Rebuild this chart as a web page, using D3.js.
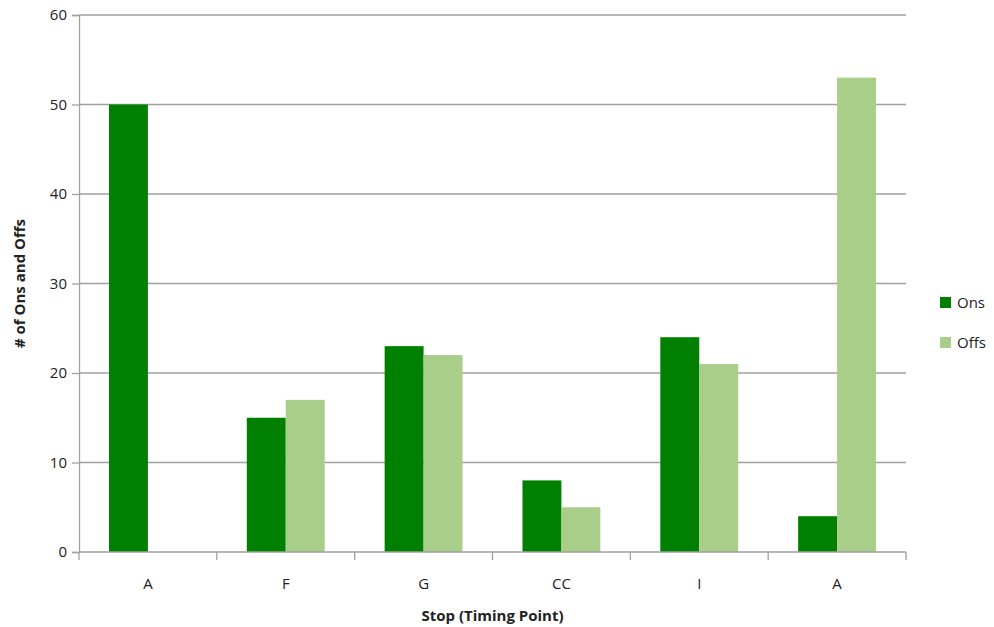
<!DOCTYPE html>
<html>
<head>
<meta charset="utf-8">
<script src="https://cdn.jsdelivr.net/npm/d3@7"></script>
<style>
  html, body { margin: 0; padding: 0; background: #fff; }
  text { font-family: "Open Sans", "DejaVu Sans", sans-serif; }
</style>
</head>
<body>
<svg id="chart" width="994" height="627"></svg>
<script>
// Stops along the route (A appears at both ends)
const stops = ["A", "F", "G", "CC", "I", "A"];
const ons = [50, 15, 23, 8, 24, 4];
const offs = [0, 17, 22, 5, 21, 53];
const yTicks = [0, 10, 20, 30, 40, 50, 60];
const seriesNames = ["Ons", "Offs"];
const seriesColors = ["#008000", "#a9ce8a"];

const svg = d3.select("#chart");
const margin = { left: 79, right: 88, top: 15, bottom: 75 };
const W = 994, H = 627;
const plotW = W - margin.left - margin.right;
const plotH = H - margin.top - margin.bottom;

const g = svg.append("g").attr("transform", `translate(${margin.left},${margin.top})`);

const x0 = d3.scaleBand().domain(d3.range(stops.length)).range([0, plotW]).padding(0);
const x1 = d3.scaleBand().domain(seriesNames).range([0, x0.bandwidth()]).paddingInner(0).paddingOuter(0.77);
const y = d3.scaleLinear().domain([0, 60]).range([plotH, 0]);

// horizontal gridlines
g.append("g").selectAll("line").data(yTicks.filter(d => d > 0)).join("line")
  .attr("x1", 0).attr("x2", plotW)
  .attr("y1", d => y(d)).attr("y2", d => y(d))
  .attr("stroke", "#a0a0a0").attr("stroke-width", 1.3);

// bars
const rows = stops.map((s, i) => ({ i, vals: [ons[i], offs[i]] }));
g.append("g").selectAll("g").data(rows).join("g")
  .attr("transform", d => `translate(${x0(d.i)},0)`)
  .selectAll("rect").data(d => d.vals.map((v, k) => ({ k, v }))).join("rect")
  .attr("x", d => x1(seriesNames[d.k]))
  .attr("width", x1.bandwidth())
  .attr("y", d => y(d.v))
  .attr("height", d => plotH - y(d.v))
  .attr("fill", d => seriesColors[d.k]);

// y axis
const yAxis = g.append("g").call(d3.axisLeft(y).tickValues(yTicks).tickSize(7).tickPadding(5));
yAxis.select(".domain").attr("stroke", "#a0a0a0").attr("stroke-width", 1.3);
yAxis.selectAll(".tick line").attr("stroke", "#a0a0a0").attr("stroke-width", 1.3);
yAxis.selectAll(".tick text").attr("font-size", 15).attr("fill", "#222")
  .style("font-family", "'Open Sans', sans-serif");

// x axis: boundaries between stops get ticks, labels centred in each band
const xAxisG = g.append("g").attr("transform", `translate(0,${plotH})`);
xAxisG.append("line").attr("x1", 0).attr("x2", plotW).attr("y1", 0).attr("y2", 0)
  .attr("stroke", "#a0a0a0").attr("stroke-width", 1.3);
xAxisG.selectAll("line.tk").data(d3.range(stops.length + 1)).join("line")
  .attr("class", "tk")
  .attr("x1", i => i * x0.bandwidth()).attr("x2", i => i * x0.bandwidth())
  .attr("y1", 0).attr("y2", 8)
  .attr("stroke", "#a0a0a0").attr("stroke-width", 1.3);
xAxisG.selectAll("text").data(rows).join("text")
  .attr("x", d => x0(d.i) + x0.bandwidth() / 2)
  .attr("y", 37)
  .attr("text-anchor", "middle")
  .attr("font-size", 15).attr("fill", "#222")
  .text(d => stops[d.i]);

// axis titles
svg.append("text")
  .attr("x", margin.left + plotW / 2).attr("y", 621)
  .attr("text-anchor", "middle").attr("font-size", 15).attr("font-weight", "bold").attr("fill", "#222")
  .text("Stop (Timing Point)");
svg.append("text")
  .attr("transform", `translate(25,${margin.top + plotH / 2}) rotate(-90)`)
  .attr("text-anchor", "middle").attr("font-size", 15).attr("font-weight", "bold").attr("fill", "#222")
  .text("# of Ons and Offs");

// legend
const legend = svg.append("g").attr("transform", "translate(940,297)");
seriesNames.forEach((name, k) => {
  const row = legend.append("g").attr("transform", `translate(0,${k * 40})`);
  row.append("rect").attr("width", 11).attr("height", 11).attr("fill", seriesColors[k]);
  row.append("text").attr("x", 17).attr("y", 11).attr("font-size", 15).attr("fill", "#222").text(name);
});
</script>
</body>
</html>
